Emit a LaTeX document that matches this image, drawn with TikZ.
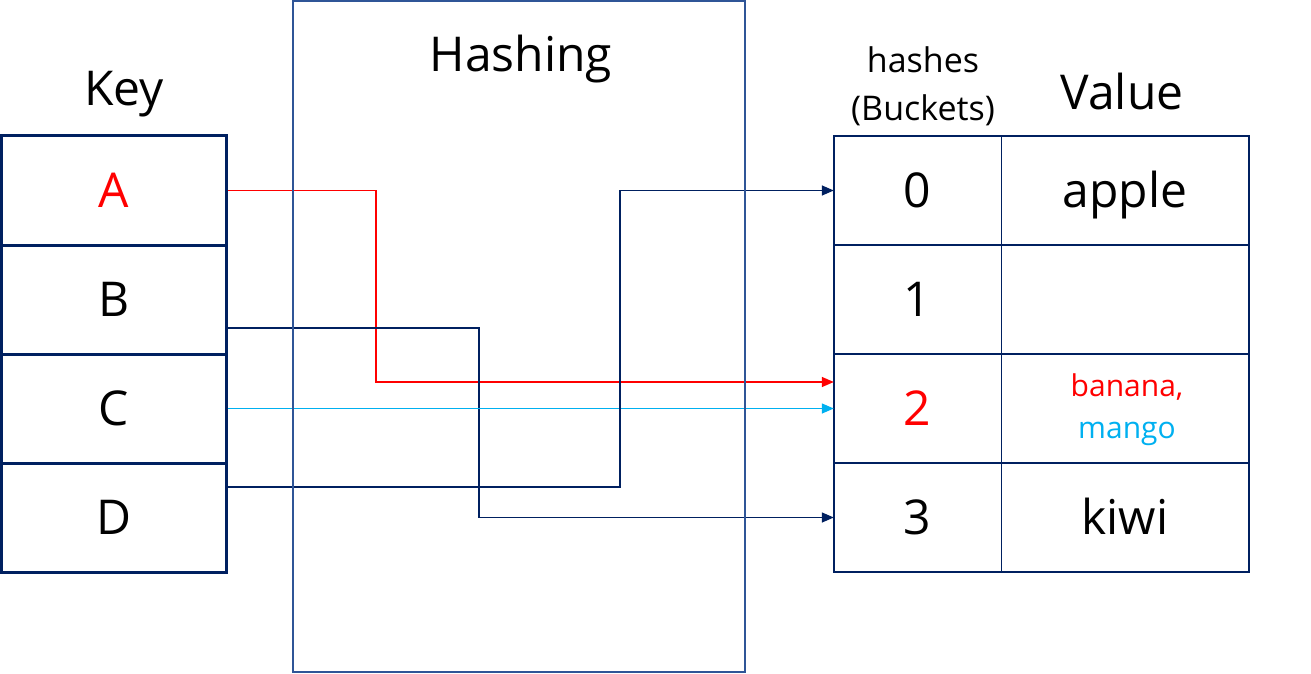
\documentclass[tikz,border=0pt]{standalone}
\usepackage{fontspec}
\setmainfont{Open Sans}
\usetikzlibrary{arrows.meta}
\definecolor{cellNavy}{HTML}{002060}
\definecolor{hashBlue}{HTML}{2F5597}
\definecolor{linkRed}{HTML}{FF0000}
\definecolor{linkCyan}{HTML}{00B0F0}
\newcommand{\hashBig}{\fontsize{48}{58}\selectfont}
\newcommand{\hashMid}{\fontsize{34}{46}\selectfont}
\newcommand{\hashSmall}{\fontsize{30}{38}\selectfont}

\begin{document}
\begin{tikzpicture}[x=1pt,y=-1pt,
  keycell/.style={draw=cellNavy, line width=3pt, minimum width=225pt, minimum height=109pt, inner sep=0pt, text height=34pt, text depth=0pt, font=\hashBig},
  bucketcell/.style={minimum width=167pt, minimum height=109pt, inner sep=0pt, text height=34pt, text depth=0pt, font=\hashBig},
  valuecell/.style={minimum width=248pt, minimum height=109pt, inner sep=0pt, text height=34pt, text depth=0pt, font=\hashBig},
  tableline/.style={draw=cellNavy, line width=2.5pt},
  divline/.style={draw=cellNavy, line width=1.3pt},
  hashbox/.style={draw=hashBlue, line width=2pt, minimum width=451.5pt, minimum height=671pt, inner sep=0pt},
  link/.style={line width=1.4pt, -{Triangle[length=12pt, width=10pt]}},
  navylink/.style={link, draw=cellNavy},
  redlink/.style={link, draw=linkRed},
  cyanlink/.style={link, draw=linkCyan}]
\useasboundingbox (0,0) rectangle (1311,674);

\node[anchor=base, font=\hashBig] (keyLbl) at (124,106) {Key};
\node[keycell] (kA) at (114,190.5) {\textcolor{linkRed}{A}};
\node[keycell] (kB) at (114,299.5) {B};
\node[keycell] (kC) at (114,408.5) {C};
\node[keycell] (kD) at (114,517.5) {D};

\node[anchor=north, inner sep=0pt, align=center, font=\hashMid] (bucketLbl) at (923,46) {hashes\\[2pt](Buckets)};
\node[anchor=base, font=\hashBig] (valueLbl) at (1122,110) {Value};
\node[bucketcell] (b0) at (917.5,190.5) {0};
\node[bucketcell] (b1) at (917.5,299.5) {1};
\node[bucketcell] (b2) at (917.5,408.5) {\textcolor{linkRed}{2}};
\node[bucketcell] (b3) at (917.5,517.5) {3};
\node[valuecell] (v0) at (1125,190.5) {apple};
\node[valuecell] (v1) at (1125,299.5) {};
\node[valuecell] (v2) at (1125,408.5) {};
\node[valuecell] (v3) at (1125,517.5) {kiwi};
\node[anchor=north, inner sep=0pt, align=center, font=\hashSmall] (v2txt) at ([xshift=2pt]v2.north |- 0,374) {\textcolor{linkRed}{banana,}\\[4pt]\textcolor{linkCyan}{mango}};
\draw[tableline] (b0.north west) rectangle (v3.south east);
\draw[tableline] (b0.south west) -- (v0.south east);
\draw[tableline] (b1.south west) -- (v1.south east);
\draw[tableline] (b2.south west) -- (v2.south east);
\draw[divline] (b0.north east) -- (b3.south east);

\draw[redlink] (kA.east) -| (376,382) -- ([yshift=26.5pt]b2.west);
\draw[navylink] ([yshift=-28.5pt]kB.east) -| (479,517.5) -- (b3.west);
\draw[cyanlink] (kC.east) -- (b2.west);
\draw[navylink] ([yshift=30.5pt]kD.east) -| (620,190.5) -- (b0.west);

\node[hashbox] (hash) at (519,336.5) {};
\node[anchor=base, font=\hashBig] (hashLbl) at (521,72) {Hashing};
\end{tikzpicture}
\end{document}
